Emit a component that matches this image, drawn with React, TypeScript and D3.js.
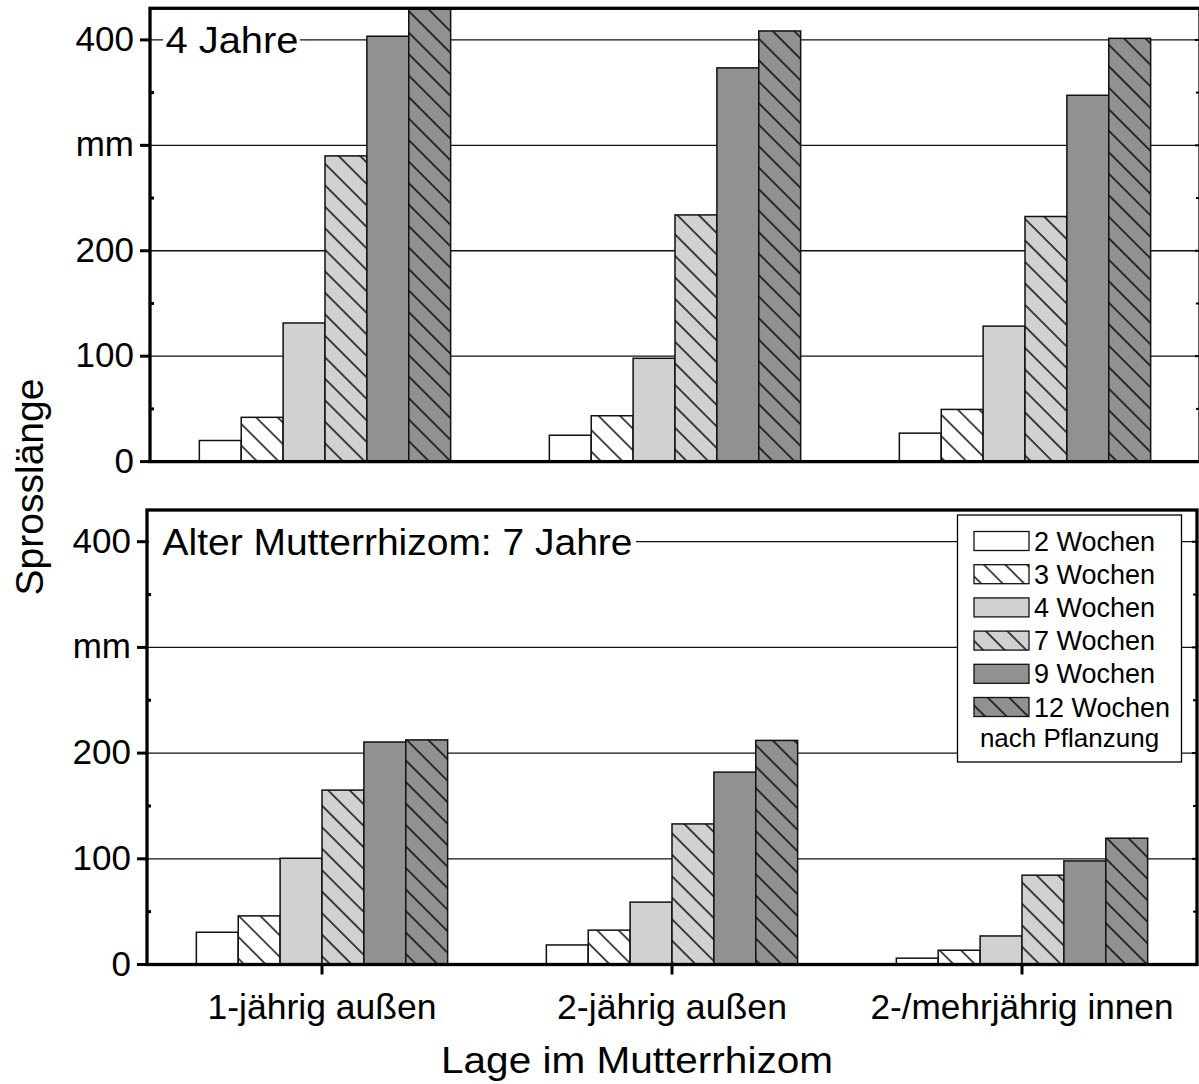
import React from 'react';
import * as d3 from 'd3';

const categories = ['1-jährig außen', '2-jährig außen', '2-/mehrjährig innen'];
const categoryLabelWidths = [229, 230, 303];
const seriesNames = ['2 Wochen', '3 Wochen', '4 Wochen', '7 Wochen', '9 Wochen', '12 Wochen'];
const seriesFill = ['#ffffff', '#ffffff', '#d1d1d1', '#d1d1d1', '#919191', '#919191'];
const seriesHatched = [false, true, false, true, false, true];
const yTicks = [0, 100, 200, 300, 400];
const yTickLabels = ['0', '100', '200', 'mm', '400'];
const yMinorTicks = [50, 150, 250, 350];
const yMax = 430;

// values[series][category]
const values4Jahre = [
  [20, 25, 27],
  [42, 43.5, 49.5],
  [131.5, 98, 128.5],
  [290, 234, 232.5],
  [403.5, 373.5, 347.5],
  [430, 408.5, 401.5],
];
const values7Jahre = [
  [30.5, 18.5, 6],
  [46, 32.5, 13.5],
  [100.5, 59, 27],
  [165, 133, 84.5],
  [210.5, 182, 98],
  [212.5, 212, 119.5],
];

const FONT = '"Liberation Sans", Arial, Helvetica, sans-serif';

type PanelProps = {
  id: string;
  values: number[][];
  x0: number;
  x1: number;
  yTop: number;
  yBase: number;
  title: string;
  titleX: number;
  titleBaseline: number;
  titleLen: number;
  boxX0: number;
  boxX1: number;
  showCatAxis: boolean;
  showLegend: boolean;
};

function Panel(p: PanelProps) {
  const y = d3.scaleLinear().domain([0, yMax]).range([p.yBase, p.yTop]);
  const xCat = d3
    .scaleBand<string>()
    .domain(categories)
    .range([p.x0, p.x1])
    .paddingInner(0.282)
    .paddingOuter(0.141);
  const xSer = d3
    .scaleBand<string>()
    .domain(seriesNames)
    .range([0, xCat.bandwidth()])
    .padding(0);

  const clipId = `clip-${p.id}`;

  return (
    <g>
      <defs>
        <clipPath id={clipId}>
          <rect x={p.x0} y={p.yTop} width={p.x1 - p.x0} height={p.yBase - p.yTop} />
        </clipPath>
      </defs>
      {yTicks.filter((t) => t > 0).map((t) => (
        <line key={t} x1={p.x0} x2={p.x1} y1={y(t)} y2={y(t)} stroke="#111" strokeWidth={1.3} />
      ))}
      <rect x={p.boxX0} y={y(400) - 16} width={p.boxX1 - p.boxX0} height={32} fill="#fff" />
      <text
        x={p.titleX}
        y={p.titleBaseline}
        fontFamily={FONT}
        fontSize={36}
        textLength={p.titleLen}
        lengthAdjust="spacingAndGlyphs"
        fill="#000"
      >
        {p.title}
      </text>
      <g clipPath={`url(#${clipId})`}>
        {seriesNames.map((s, si) =>
          categories.map((c, ci) => {
            const v = p.values[si][ci];
            const bx = (xCat(c) as number) + (xSer(s) as number);
            const bw = xSer.bandwidth();
            const by = y(v);
            const bh = y(0) - y(v);
            return (
              <g key={`${si}-${ci}`}>
                <rect x={bx} y={by} width={bw} height={bh} fill={seriesFill[si]} />
                {seriesHatched[si] && (
                  <rect x={bx} y={by} width={bw} height={bh} fill="url(#hatch)" />
                )}
                <rect
                  x={bx}
                  y={by}
                  width={bw}
                  height={bh}
                  fill="none"
                  stroke="#111"
                  strokeWidth={1.5}
                />
              </g>
            );
          })
        )}
      </g>
      <rect
        x={p.x0}
        y={p.yTop}
        width={p.x1 - p.x0}
        height={p.yBase - p.yTop}
        fill="none"
        stroke="#000"
        strokeWidth={3.3}
      />
      {yTicks.map((t, i) => (
        <g key={t}>
          <line x1={p.x0 - 10} x2={p.x0} y1={y(t)} y2={y(t)} stroke="#000" strokeWidth={3} />
          <line x1={p.x1 - 5} x2={p.x1} y1={y(t)} y2={y(t)} stroke="#000" strokeWidth={2} />
          <text
            x={p.x0 - 16}
            y={y(t) + 11}
            textAnchor="end"
            fontFamily={FONT}
            fontSize={35}
            fill="#000"
          >
            {yTickLabels[i]}
          </text>
        </g>
      ))}
      {yMinorTicks.map((t) => (
        <g key={t}>
          <line x1={p.x0} x2={p.x0 + 4} y1={y(t)} y2={y(t)} stroke="#000" strokeWidth={3} />
          <line x1={p.x1 - 4} x2={p.x1} y1={y(t)} y2={y(t)} stroke="#000" strokeWidth={2} />
        </g>
      ))}
      {p.showCatAxis &&
        categories.map((c, ci) => {
          const cx = (xCat(c) as number) + xCat.bandwidth() / 2;
          return (
            <g key={c}>
              <line x1={cx} x2={cx} y1={p.yBase} y2={p.yBase + 10} stroke="#000" strokeWidth={3} />
              <text
                x={cx}
                y={p.yBase + 54}
                textAnchor="middle"
                fontFamily={FONT}
                fontSize={35}
                textLength={categoryLabelWidths[ci]}
                lengthAdjust="spacingAndGlyphs"
                fill="#000"
              >
                {c}
              </text>
            </g>
          );
        })}
      {p.showLegend && <Legend />}
    </g>
  );
}

function Legend() {
  const bx = 957.5;
  const by = 515;
  const bw = 224;
  const bh = 247;
  const rowY = d3.scaleLinear().domain([0, 5]).range([541, 707]);
  return (
    <g>
      <rect x={bx} y={by} width={bw} height={bh} fill="#fff" stroke="#000" strokeWidth={1.3} />
      {seriesNames.map((s, i) => {
        const cy = rowY(i);
        return (
          <g key={s}>
            <rect x={974} y={cy - 9.5} width={55} height={19} fill={seriesFill[i]} />
            {seriesHatched[i] && (
              <rect x={974} y={cy - 9.5} width={55} height={19} fill="url(#hatch)" />
            )}
            <rect
              x={974}
              y={cy - 9.5}
              width={55}
              height={19}
              fill="none"
              stroke="#111"
              strokeWidth={1.3}
            />
            <text x={1034} y={cy + 9.5} fontFamily={FONT} fontSize={27} fill="#000">
              {s}
            </text>
          </g>
        );
      })}
      <text
        x={bx + bw / 2}
        y={746.5}
        textAnchor="middle"
        fontFamily={FONT}
        fontSize={26}
        fill="#000"
      >
        nach Pflanzung
      </text>
    </g>
  );
}

export default function App() {
  return (
    <svg
      width={1199}
      height={1084}
      viewBox="0 0 1199 1084"
      style={{ position: 'absolute', left: 0, top: 0, display: 'block', background: '#fff' }}
    >
      <defs>
        <pattern
          id="hatch"
          patternUnits="userSpaceOnUse"
          width={10}
          height={15.2}
          patternTransform="rotate(45)"
        >
          <line x1={-1} x2={11} y1={7.6} y2={7.6} stroke="#000" strokeWidth={1.4} />
        </pattern>
      </defs>
      <rect x={0} y={0} width={1199} height={1084} fill="#fff" />
      <Panel
        id="top"
        values={values4Jahre}
        x0={150}
        x1={1200}
        yTop={8.3}
        yBase={461.6}
        title="4 Jahre"
        titleX={165.5}
        titleBaseline={52.5}
        titleLen={133}
        boxX0={163}
        boxX1={300}
        showCatAxis={false}
        showLegend={false}
      />
      <Panel
        id="bottom"
        values={values7Jahre}
        x0={147}
        x1={1197}
        yTop={510}
        yBase={964.5}
        title="Alter Mutterrhizom: 7 Jahre"
        titleX={162.5}
        titleBaseline={554.5}
        titleLen={470}
        boxX0={149}
        boxX1={636}
        showCatAxis={true}
        showLegend={true}
      />
      <text
        transform="translate(42.5,487) rotate(-90)"
        textAnchor="middle"
        fontFamily={FONT}
        fontSize={39}
        fill="#000"
      >
        Sprosslänge
      </text>
      <text
        x={637}
        y={1073}
        textAnchor="middle"
        fontFamily={FONT}
        fontSize={37}
        textLength={392}
        lengthAdjust="spacingAndGlyphs"
        fill="#000"
      >
        Lage im Mutterrhizom
      </text>
    </svg>
  );
}
